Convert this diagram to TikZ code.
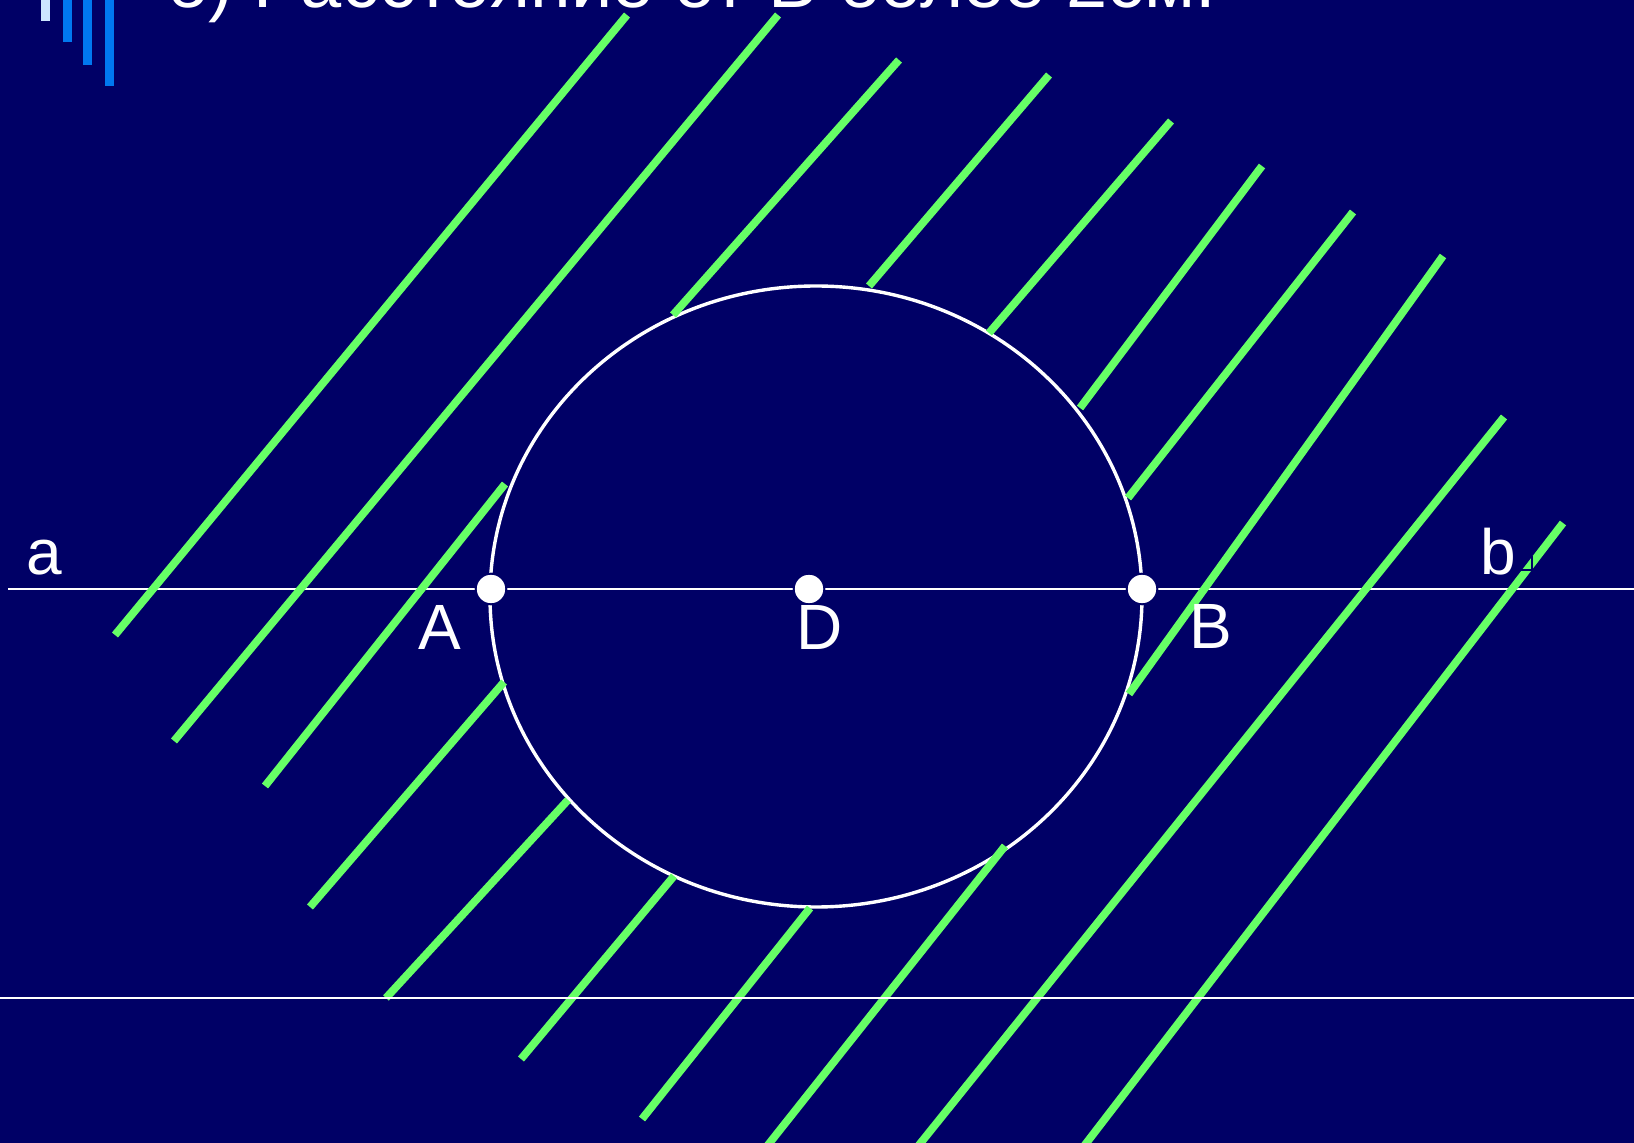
\documentclass[tikz,border=0pt]{standalone}
\usepackage{fontspec}
\setmainfont{Liberation Sans}
\definecolor{navy}{RGB}{0,0,102}
\definecolor{grn}{RGB}{102,255,102}
\definecolor{barlight}{RGB}{204,230,255}
\definecolor{barblue}{RGB}{0,120,240}
\begin{document}
\begin{tikzpicture}[x=0.5pt,y=-0.5pt,
  hatch/.style={draw=grn,line width=3.9pt,line cap=butt},
  axisline/.style={draw=white,line width=1.2pt},
  lbl/.style={text=white,font=\fontsize{32}{38}\selectfont,inner sep=0pt,anchor=base},
  dotpt/.style={circle,fill=white,draw=navy,line width=1pt,minimum size=15.3pt,inner sep=0pt},
  barstyle/.style={fill=barblue}]
\useasboundingbox (0,0) rectangle (1634,1143);
\clip (0,0) rectangle (1634,1143);
\fill[navy] (0,0) rectangle (1634,1143);
% decorative bars
\fill[barlight] (41,0) rectangle (50,21);
\fill[barstyle] (63,0) rectangle (72,42);
\fill[barstyle] (83,0) rectangle (92,65);
\fill[barstyle] (105,0) rectangle (114,86);
% title (cut off at top, as in the reference)
\node[anchor=base west,inner sep=0pt,text=white,font=\fontsize{37}{44}\selectfont] (title) at (166,8) {б) Расстояние от В более 2см.};
% line a-b
\coordinate (aL) at (8,589);
\coordinate (aR) at (1634,589);
\draw[axisline] (aL) -- (aR);
% circle
\coordinate (O) at (816,596.5);
\draw[white,line width=1.7pt] (O) ellipse [x radius=326, y radius=310.5];
% green hatch lines
\draw[hatch] (627,15) -- (115,635);
\draw[hatch] (778,15) -- (174,741);
\draw[hatch] (505,484) -- (265,786);
\draw[hatch] (899,60) -- (673,315);
\draw[hatch] (1049,75) -- (869,286);
\draw[hatch] (1171,121) -- (989,333);
\draw[hatch] (1262,166) -- (1080,408);
\draw[hatch] (1353,212) -- (1128,498);
\draw[hatch] (1443,256) -- (1129,694);
\draw[hatch] (1504,417) -- (915,1150);
\draw[hatch] (1563,523) -- (1081,1150);
\draw[hatch] (504,682) -- (310,907);
\draw[hatch] (568,800) -- (386,998);
\draw[hatch] (674,876) -- (521,1059);
\draw[hatch] (810,908) -- (642,1119);
\draw[hatch] (1005,846) -- (764,1150);
% lower line
\coordinate (cL) at (0,998);
\coordinate (cR) at (1634,998);
\draw[axisline] (cL) -- (cR);
% small notch near b
\draw[navy,line width=1.35pt] (1521,570) -- (1532,570) -- (1532,556);
% points
\node[dotpt] (A) at (491,589) {};
\node[dotpt] (D) at (809,589) {};
\node[dotpt] (B) at (1142,589) {};
% labels
\node[lbl] (la) at (44,575) {a};
\node[lbl] (lb) at (1498,575) {b};
\node[lbl] (lA) at (440,650) {A};
\node[lbl] (lD) at (820,650) {D};
\node[lbl] (lB) at (1211,649) {B};
\end{tikzpicture}
\end{document}
